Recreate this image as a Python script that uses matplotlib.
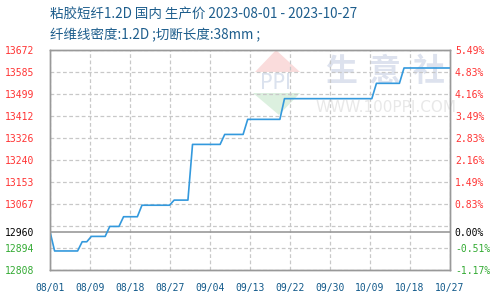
import numpy as np
import matplotlib
matplotlib.use("Agg")
import matplotlib.pyplot as plt
from matplotlib.patches import Polygon
from datetime import date

# ---------------- data ----------------
dates = ["2023-08-01", "2023-08-02", "2023-08-07", "2023-08-08", "2023-08-09",
         "2023-08-10", "2023-08-13", "2023-08-14", "2023-08-16", "2023-08-17",
         "2023-08-20", "2023-08-21", "2023-08-27", "2023-08-28", "2023-08-31",
         "2023-09-01", "2023-09-07", "2023-09-08", "2023-09-12", "2023-09-13",
         "2023-09-20", "2023-09-21", "2023-10-10", "2023-10-11", "2023-10-16",
         "2023-10-17", "2023-10-27"]
prices = [12960, 12884, 12884, 12920, 12920,
          12941, 12941, 12980, 12980, 13018,
          13018, 13063, 13063, 13083, 13083,
          13301, 13301, 13340, 13340, 13399,
          13399, 13480, 13480, 13540, 13540,
          13600, 13600]
x_tick_labels = ["08/01", "08/09", "08/18", "08/27", "09/04", "09/13",
                 "09/22", "09/30", "10/09", "10/18", "10/27"]
left_labels = ["12808", "12894", "12960", "13067", "13153", "13240",
               "13326", "13412", "13499", "13585", "13672"]
right_labels = ["-1.17%", "-0.51%", "0.00%", "0.83%", "1.49%", "2.16%",
                "2.83%", "3.49%", "4.16%", "4.83%", "5.49%"]
base_value = 12960
y_min, y_max = 12808, 13672
title1 = "粘胶短纤1.2D 国内 生产价 2023-08-01 - 2023-10-27"
title2 = "纤维线密度:1.2D ;切断长度:38mm ;"

# ---------------- styling ----------------
CJK = ["Noto Sans CJK SC", "DejaVu Sans"]
MONO = "DejaVu Sans Mono"
RED = "#ff3333"
GREEN = "#33aa33"
TITLE_C = "#1d5d8c"
XLAB_C = "#11598a"
GRID_C = "#c8c8c8"
FRAME_C = "#999999"
LINE_C = "#3399dd"

start = date.fromisoformat(dates[0])
days = np.array([(date.fromisoformat(d) - start).days for d in dates])
total_days = (date.fromisoformat("2023-10-27") - start).days

fig = plt.figure(figsize=(5, 3), dpi=100)
fig.patch.set_facecolor("white")
ax = fig.add_axes([0.1, 0.0987, 0.8, 0.736])
ax.patch.set_facecolor("none")

# ---------- watermark (figure pixel coordinates) ----------
def fx(px):
    return px / 500.0

def fy(py):
    return 1 - py / 300.0

pink = Polygon([(fx(255), fy(72)), (fx(276), fy(50)), (fx(300), fy(72))],
               closed=True, transform=fig.transFigure, facecolor="#fadcdc",
               edgecolor="none", zorder=0.2)
green = Polygon([(fx(253), fy(93)), (fx(300), fy(93)), (fx(279), fy(115))],
                closed=True, transform=fig.transFigure, facecolor="#dcf0df",
                edgecolor="none", zorder=0.2)
ax.add_patch(pink)
ax.add_patch(green)
ax.text(fx(276), fy(83), "PPI", transform=fig.transFigure, ha="center",
        va="center", fontsize=15, color="#dbe2ee", family="DejaVu Sans",
        zorder=0.3)
for cx, ch in zip([341, 385, 429], ["生", "意", "社"]):
    ax.text(fx(cx), fy(72), ch, transform=fig.transFigure, ha="center",
            va="center", fontsize=23, color="#dde2ee", family=CJK,
            fontweight="bold", zorder=0.3)
ax.text(fx(386), fy(107), "WWW.100PPI.COM", transform=fig.transFigure,
        ha="center", va="center", fontsize=11, color="#e8e8e8",
        family="Liberation Sans Narrow", zorder=0.3)

# ---------- grid ----------
grid_vals = np.linspace(y_min, y_max, 11)
for gv in grid_vals:
    ax.axhline(gv, color=GRID_C, lw=0.9, ls=(0, (3, 2)), zorder=1)
x_ticks = np.linspace(0, total_days, len(x_tick_labels))
for xv in x_ticks:
    ax.axvline(xv, color=GRID_C, lw=0.9, ls=(0, (3, 2)), zorder=1)
ax.axhline(base_value, color=FRAME_C, lw=1.2, zorder=1.5)

# ---------- line ----------
ax.plot(days, prices, color=LINE_C, lw=1.2, zorder=3)

ax.set_xlim(0, total_days)
ax.set_ylim(y_min, y_max)

ytick_pos = list(grid_vals)
ytick_pos[2] = base_value

def label_color(v):
    if abs(v - base_value) < 1e-6:
        return "black"
    return RED if v > base_value else GREEN

ax.set_yticks(ytick_pos)
ax.set_yticklabels(left_labels, family=MONO, fontsize=7)
for lab, v in zip(ax.get_yticklabels(), ytick_pos):
    lab.set_color(label_color(v))
ax.tick_params(axis="y", length=0, pad=11.5)

ax.set_xticks(x_ticks)
ax.set_xticklabels(x_tick_labels, family=MONO, fontsize=7, color=XLAB_C)
ax.tick_params(axis="x", length=0, pad=9)

ax2 = ax.twinx()
ax2.set_ylim(y_min, y_max)
ax2.set_yticks(ytick_pos)
ax2.set_yticklabels(right_labels, family=MONO, fontsize=7)
for lab, v in zip(ax2.get_yticklabels(), ytick_pos):
    lab.set_color(label_color(v))
ax2.tick_params(axis="y", length=0, pad=3.5)

for a in (ax, ax2):
    for sp in a.spines.values():
        sp.set_color(FRAME_C)
        sp.set_linewidth(1.0)

fig.text(0.1, fy(15), title1, ha="left", va="center", fontsize=9.7,
         color=TITLE_C, family=CJK)
fig.text(0.1, fy(35), title2, ha="left", va="center", fontsize=9.7,
         color=TITLE_C, family=CJK)

fig.savefig("out.png", dpi=100)
